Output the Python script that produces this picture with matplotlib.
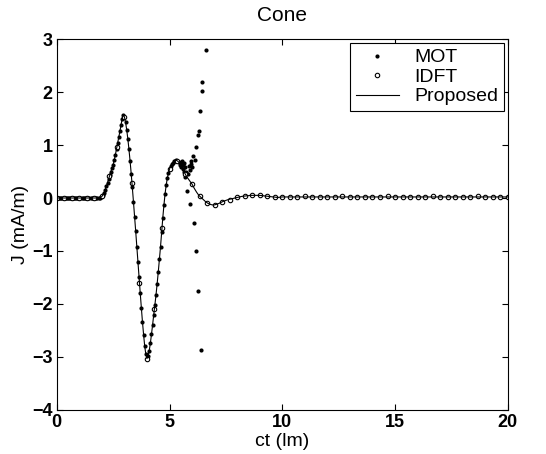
import matplotlib.pyplot as plt
import numpy as np

plt.rcParams['font.family'] = ['Liberation Sans', 'DejaVu Sans']

# proposed method (solid line), ct in light-metres
prop_t = [0.0, 1.90, 1.95, 2.00, 2.05, 2.10, 2.15, 2.20, 2.25, 2.30, 2.35,
          2.40, 2.45, 2.50, 2.55, 2.60, 2.65, 2.70, 2.75, 2.80, 2.85,
          2.90, 2.95, 3.00, 3.05, 3.10, 3.15, 3.20, 3.25, 3.30, 3.35,
          3.40, 3.45, 3.50, 3.55, 3.60, 3.65, 3.70, 3.75, 3.80, 3.85,
          3.90, 3.95, 4.00, 4.05, 4.10, 4.15, 4.20, 4.25, 4.30, 4.35,
          4.40, 4.45, 4.50, 4.55, 4.60, 4.65, 4.70, 4.75, 4.80, 4.85,
          4.90, 4.95, 5.00, 5.05, 5.10, 5.15, 5.20, 5.25, 5.30, 5.35,
          5.40, 5.45, 5.50, 5.55, 5.60, 5.65, 5.70, 5.75, 5.80, 5.85,
          5.90, 5.95, 6.00, 6.10, 6.20, 6.30, 6.40, 6.50, 6.60, 6.70,
          6.80, 6.90, 7.00, 7.20, 7.40, 7.60, 7.80, 8.00, 8.20, 8.40,
          8.60, 8.80, 9.00, 9.20, 9.40, 9.60, 9.80, 10.0, 12.0, 14.0,
          16.0, 18.0, 20.0]
prop_j = [0.00, 0.00, 0.01, 0.03, 0.06, 0.10, 0.16, 0.22, 0.29, 0.36, 0.43,
          0.50, 0.56, 0.63, 0.72, 0.82, 0.93, 1.04, 1.15, 1.26, 1.38,
          1.50, 1.57, 1.53, 1.43, 1.29, 1.12, 0.92, 0.70, 0.46, 0.20,
          -0.07, -0.35, -0.63, -0.92, -1.21, -1.50, -1.79, -2.07, -2.34, -2.58,
          -2.80, -2.95, -3.03, -2.98, -2.88, -2.74, -2.57, -2.39, -2.20, -2.02,
          -1.83, -1.62, -1.40, -1.16, -0.92, -0.65, -0.38, -0.14, 0.07, 0.24,
          0.37, 0.47, 0.55, 0.60, 0.64, 0.67, 0.69, 0.70, 0.71, 0.70,
          0.68, 0.65, 0.61, 0.57, 0.53, 0.49, 0.45, 0.41, 0.38, 0.35,
          0.32, 0.29, 0.26, 0.18, 0.11, 0.05, 0.01, -0.03, -0.07, -0.10,
          -0.12, -0.13, -0.13, -0.10, -0.06, -0.03, -0.01, 0.01, 0.03, 0.04,
          0.05, 0.05, 0.05, 0.04, 0.03, 0.02, 0.01, 0.02, 0.02, 0.02,
          0.02, 0.02, 0.02]

# MOT samples, dt = 0.05 up to 5.40
mot_t = np.round(np.arange(0, 5.41, 0.05), 2)
mot_j = [0.00, 0.00, 0.00, 0.00, 0.00, 0.00, 0.00, 0.00, 0.00, 0.00,
         0.00, 0.00, 0.00, 0.00, 0.00, 0.00, 0.00, 0.00, 0.00, 0.00,
         0.00, 0.00, 0.00, 0.00, 0.00, 0.00, 0.00, 0.00, 0.00, 0.00,
         0.00, 0.00, 0.00, 0.00, 0.00, 0.00, 0.00, 0.00,
         0.00, 0.01, 0.03, 0.06, 0.10, 0.16, 0.22, 0.29, 0.36, 0.43,
         0.50, 0.56, 0.63, 0.72, 0.82, 0.93, 1.04, 1.15, 1.26, 1.38,
         1.50, 1.57, 1.53, 1.43, 1.29, 1.12, 0.92, 0.70, 0.46, 0.20,
         -0.07, -0.35, -0.63, -0.92, -1.21, -1.50, -1.79, -2.07, -2.34, -2.58,
         -2.80, -2.95, -3.03, -2.98, -2.88, -2.74, -2.57, -2.39, -2.20, -2.02,
         -1.83, -1.62, -1.40, -1.16, -0.92, -0.65, -0.38, -0.14, 0.07, 0.24,
         0.37, 0.47, 0.55, 0.60, 0.64, 0.67, 0.69, 0.70, 0.71, 0.70,
         0.68]
# late-time MOT samples (unstable)
mot_tail_t = [5.45, 5.48, 5.50, 5.53, 5.55, 5.58, 5.60, 5.63, 5.65, 5.68,
              5.70, 5.73, 5.75, 5.79, 5.82, 5.86, 5.90, 5.90, 5.94, 5.97,
              6.01, 6.05, 6.07, 6.12, 6.16, 6.19, 6.28, 6.28, 6.31, 6.37,
              6.39, 6.43, 6.46, 6.61]
mot_tail_j = [0.67, 0.62, 0.66, 0.58, 0.69, 0.55, 0.62, 0.50, 0.66, 0.39,
              0.58, 0.47, 0.50, 0.14, 0.45, 0.60, 0.53, -0.11, 0.64, 0.69,
              0.58, 0.80, -0.48, 0.72, -1.00, 0.97, 1.18, -1.75, 1.26, 1.65,
              -2.86, 2.02, 2.18, 2.79]

# IDFT samples, dt = 1/3
idft_t = np.arange(61) / 3
idft_j = [0.00, 0.00, 0.00, 0.00, 0.00, 0.00, 0.03, 0.41, 0.97, 1.53,
          0.29, -1.60, -3.03, -2.09, -0.56, 0.55, 0.70, 0.46, 0.27, 0.04,
          -0.09, -0.14, -0.08, -0.03, 0.01, 0.04, 0.05, 0.05, 0.04, 0.02,
          0.02, 0.02, 0.02, 0.03, 0.02, 0.02, 0.02, 0.02, 0.03, 0.02,
          0.02, 0.02, 0.02, 0.02, 0.03, 0.02, 0.02, 0.02, 0.02, 0.02,
          0.03, 0.02, 0.02, 0.02, 0.02, 0.02, 0.03, 0.02, 0.02, 0.02,
          0.02]

fig = plt.figure(figsize=(5.46, 4.54), dpi=100)
ax = fig.add_axes([0.104, 0.097, 0.826, 0.817])

ax.plot(np.concatenate([mot_t, mot_tail_t]), mot_j + mot_tail_j, 'o',
        color='k', ms=3.0, mew=0, label='MOT')
ax.plot(idft_t, idft_j, 'o', mfc='white', mec='k', ms=3.2, mew=0.8,
        label='IDFT')
ax.plot(prop_t, prop_j, '-', color='k', lw=0.8, label='Proposed')

ax.set_xlim(0, 20)
ax.set_ylim(-4, 3)
ax.set_xticks([0, 5, 10, 15, 20])
ax.set_yticks([-4, -3, -2, -1, 0, 1, 2, 3])
ax.tick_params(direction='in', top=True, right=True, length=4,
               labelsize=13, pad=3)
for lab in ax.get_xticklabels() + ax.get_yticklabels():
    lab.set_fontweight('bold')
for s in ax.spines.values():
    s.set_linewidth(0.8)

ax.set_title('Cone', fontsize=15, pad=13)
ax.set_xlabel('ct (lm)', fontsize=14, labelpad=1)
ax.set_ylabel('J (mA/m)', fontsize=14, labelpad=2)

leg = ax.legend(loc='upper right', fontsize=14, fancybox=False,
                edgecolor='k', framealpha=1, borderaxespad=0.2,
                handlelength=2.2, labelspacing=0.1, borderpad=0.3)
leg.get_frame().set_linewidth(0.8)

fig.savefig('out.png', dpi=100)
